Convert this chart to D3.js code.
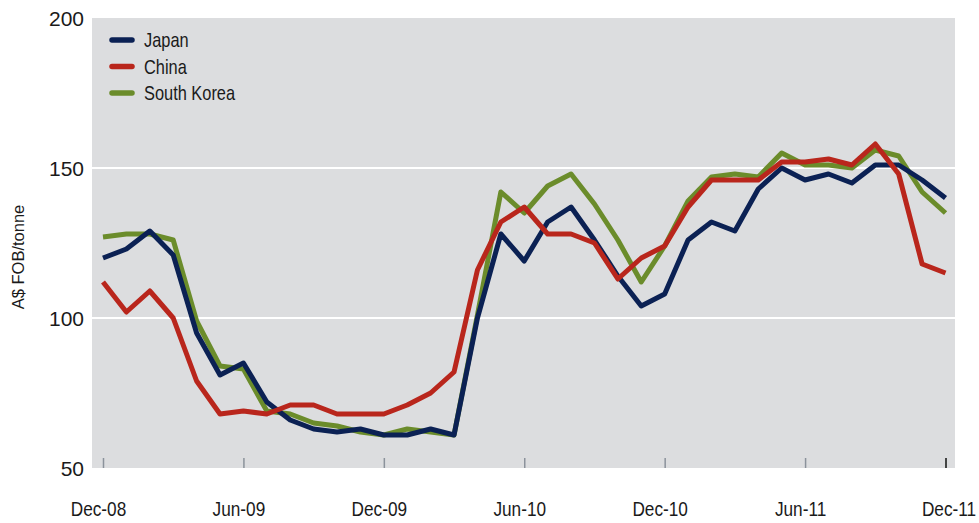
<!DOCTYPE html>
<html><head><meta charset="utf-8">
<script src="https://cdn.jsdelivr.net/npm/d3@7"></script>
<style>
html,body{margin:0;padding:0;background:#fff;}
svg{display:block;}
</style></head>
<body>
<svg id="chart" width="979" height="523"></svg>
<script>
const months = ["Dec-08","Jan-09","Feb-09","Mar-09","Apr-09","May-09","Jun-09","Jul-09","Aug-09","Sep-09","Oct-09","Nov-09",
  "Dec-09","Jan-10","Feb-10","Mar-10","Apr-10","May-10","Jun-10","Jul-10","Aug-10","Sep-10","Oct-10","Nov-10",
  "Dec-10","Jan-11","Feb-11","Mar-11","Apr-11","May-11","Jun-11","Jul-11","Aug-11","Sep-11","Oct-11","Nov-11","Dec-11"];
const japan = [120,123,129,121,95,81,85,72,66,63,62,63,61,61,63,61,100,128,119,132,137,126,114,104,108,126,132,129,143,150,146,148,145,151,151,146,140];
const china = [112,102,109,100,79,68,69,68,71,71,68,68,68,71,75,82,116,132,137,128,128,125,113,120,124,137,146,146,146,152,152,153,151,158,148,118,115];
const southKorea = [127,128,128,126,99,84,83,69,68,65,64,62,61,63,62,61,101,142,135,144,148,138,126,112,124,139,147,148,147,155,151,151,150,156,154,142,135];
const xTickLabels = ["Dec-08","Jun-09","Dec-09","Jun-10","Dec-10","Jun-11","Dec-11"];
const yTicks = [50,100,150,200];
const gridValues = [100,150];
const seriesNames = ["Japan","China","South Korea"];
const seriesColors = ["#0b2154","#b9261c","#6b8c2b"];

const FONT = "'Liberation Sans',Arial,sans-serif";
const COND = 0.82;

const svg = d3.select("#chart");
const plot = {left:92, right:955, top:18, bottom:468};
const x = d3.scaleLinear().domain([0, months.length-1]).range([103, 945.5]);
const y = d3.scaleLinear().domain([50,200]).range([plot.bottom, plot.top]);

svg.append("rect").attr("x",plot.left).attr("y",plot.top)
  .attr("width",plot.right-plot.left).attr("height",plot.bottom-plot.top)
  .attr("fill","#dcdddf");

svg.selectAll("line.grid").data(gridValues).enter().append("line")
  .attr("class","grid").attr("x1",plot.left).attr("x2",plot.right)
  .attr("y1",d=>y(d)).attr("y2",d=>y(d))
  .attr("stroke","#fff").attr("stroke-width",2.2);

// y axis labels
const yAxis = d3.axisLeft(y).tickValues(yTicks).tickSize(0).tickPadding(0);
const gy = svg.append("g").attr("transform","translate(84,0)").call(yAxis);
gy.select(".domain").remove();
gy.selectAll("text").attr("font-family",FONT)
  .attr("font-size",21).attr("fill","#1a1a1a").attr("dy","0.36em");

// x axis ticks & labels
const tickIdx = xTickLabels.map(l => months.indexOf(l));
const xAxis = d3.axisBottom(x).tickValues(tickIdx).tickSize(10).tickFormat((d,i)=>xTickLabels[i]);
const gx = svg.append("g").attr("transform",`translate(0,${plot.bottom-10})`).call(xAxis);
gx.select(".domain").remove();
gx.selectAll(".tick line").attr("stroke","#8b929b").attr("stroke-width",1.5).attr("y1",0).attr("y2",10);
gx.selectAll(".tick:last-of-type line").attr("stroke","#111");
gx.selectAll("text").attr("font-family",FONT).attr("font-size",21).attr("fill","#1a1a1a")
  .attr("y",0).attr("dy",0)
  .attr("transform",(d,i)=>`translate(${i===xTickLabels.length-1 ? 3 : -5},58) scale(${COND},1)`);

// axis title
svg.append("text").attr("transform","translate(24,257) rotate(-90)")
  .attr("text-anchor","middle").attr("font-family",FONT)
  .attr("font-size",16.5).attr("fill","#1a1a1a").text("A$ FOB/tonne");

// lines
const line = d3.line().x((d,i)=>x(i)).y(d=>y(d)).curve(d3.curveLinear);
const seriesData = [japan, china, southKorea];
const drawOrder = [2,0,1];
drawOrder.forEach(k=>{
  svg.append("path").datum(seriesData[k]).attr("d",line)
    .attr("fill","none").attr("stroke",seriesColors[k]).attr("stroke-width",5)
    .attr("stroke-linejoin","round").attr("stroke-linecap","butt");
});

// legend
const lg = svg.append("g").attr("transform","translate(110,40)");
seriesNames.forEach((n,i)=>{
  const g = lg.append("g").attr("transform",`translate(0,${i*26.5})`);
  g.append("line").attr("x1",2).attr("x2",22).attr("y1",0).attr("y2",0)
    .attr("stroke",seriesColors[i]).attr("stroke-width",5.5).attr("stroke-linecap","round");
  g.append("text").attr("transform",`translate(34,0) scale(${COND},1)`).attr("dy","0.35em")
    .attr("font-family",FONT).attr("font-size",20).attr("fill","#1a1a1a").text(n);
});
</script>
</body></html>
